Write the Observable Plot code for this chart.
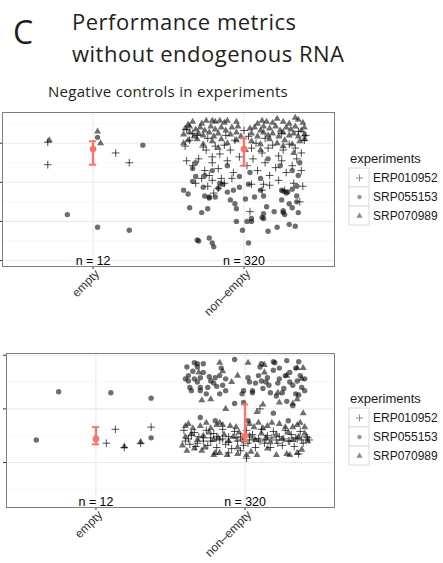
<!DOCTYPE html>
<html>
<head>
<meta charset="utf-8">
<script src="https://cdn.jsdelivr.net/npm/d3@7"></script>
<script src="https://cdn.jsdelivr.net/npm/@observablehq/plot@0.6"></script>
<style>
  body { margin: 0; background: #fff; }
  #root { position: relative; width: 443px; height: 563px; overflow: hidden; background: #fff; }
  .layer { position: absolute; }
</style>
</head>
<body>
<div id="root">
  <svg class="layer" style="left:0;top:0" width="443" height="563">
    <g font-family="'Open Sans','Noto Sans',sans-serif" fill="#231f20">
      <text x="13" y="44" font-size="32">C</text>
      <text x="72" y="29.5" font-size="22" letter-spacing="0.5">Performance metrics</text>
      <text x="72" y="61.5" font-size="22" letter-spacing="0.5">without endogenous RNA</text>
      <text x="168" y="97" font-size="15" letter-spacing="0.3" text-anchor="middle">Negative controls in experiments</text>
    </g>
    <g font-family="'Liberation Sans',Arial,sans-serif" fill="#1a1a1a" font-size="13">
      <text x="350" y="162.7">experiments</text>
      <text x="350" y="402.7">experiments</text>
    </g>
  </svg>
</div>
<script>
// ---------- data ----------
const categories = ["empty", "non–empty"];
const counts = [12, 320];
const experiments = ["ERP010952", "SRP055153", "SRP070989"];

// panel 1 (upper) y ticks
const panel1Ticks = [0, 40, 80, 120];
const panel1Minor = [20, 60, 100, 140];
// panel 2 (lower) y ticks
const panel2Ticks = [0, 50, 100];
const panel2Minor = [-25, 25, 75];

// points: [jitter (fraction of band), value]
const p1_empty_ERP010952 = [[-0.30,121],[-0.30,98],[0.15,110],[0.24,100]];
const p1_empty_SRP055153 = [[0.03,126],[0.33,118],[-0.17,47],[0.03,34],[0.24,31]];
const p1_empty_SRP070989 = [[-0.29,123],[0.03,132],[0.05,120]];

const p1_nonempty_ERP010952 = [
[-0.39,117],[-0.36,123],[-0.31,128],[-0.27,116],[-0.25,113],[-0.21,106],[-0.19,117],[-0.16,109],[-0.13,118],[-0.09,113],[-0.06,123],[-0.03,106],[0.05,115],[0.08,120],[0.12,110],[0.16,115],[0.19,118],[0.23,107],[0.26,113],[0.30,119],[0.34,115],[0.38,110],[0.40,123],
[-0.38,102],[-0.34,97],[-0.30,104],[-0.26,92],[-0.23,87],[-0.21,100],[-0.17,94],[-0.15,84],[-0.11,102],[-0.07,90],[0.02,97],[0.06,104],[0.09,92],[0.14,100],[0.17,87],[0.21,95],[0.25,102],[0.28,90],[0.32,97],[0.35,104],[0.38,92],
[-0.32,79],[-0.28,84],[-0.24,76],[-0.21,82],[-0.17,74],[-0.13,79],[-0.08,84],[0.05,78],[0.12,72],[0.17,77],[0.23,82],[0.27,72],[0.33,79],[0.39,76],
[-0.20,69],[0.13,78],[0.04,50],[0.37,60],
[-0.38,134],[-0.34,130],[-0.24,125],[-0.12,128],[0,133],[0.03,127],[0.14,125],[0.25,130],[0.36,132],[0.41,128]];
const p1_nonempty_SRP055153 = [
[-0.34,94],[-0.32,100],[-0.32,86],[-0.26,87],[0.16,104],[0.32,92],[0.36,87],[-0.34,81],[-0.16,79],[-0.11,97],[0.04,90],[0.24,97],[-0.03,86],[-0.21,92],[0.11,84],[0.37,100],
[-0.40,72],[-0.37,68],[-0.27,75],[-0.26,66],[-0.23,65],[-0.19,65],[-0.17,74],[-0.14,78],[-0.11,70],[-0.07,72],[-0.03,75],[0.03,78],[0.11,72],[0.13,66],[0.07,65],[0.01,63],[-0.09,62],[0.26,71],[0.29,70],[0.32,73],[0.35,76],[0.35,66],[-0.23,64],[0.28,69],
[-0.06,58],[-0.05,53],[-0.36,54],[-0.28,49],[-0.24,53],[0.15,55],[0.20,50],[0.25,62],[0.26,49],[0.30,58],[0.35,60],[0.36,49],[0.32,54],[0.27,47],[0.13,48],
[-0.05,40],[0.02,40],[0.05,40],[0.13,43],[-0.01,31],[0.16,30],[0.22,34],[0.30,37],[0.34,35],[0.05,43],
[-0.30,20],[-0.23,23],[-0.21,18],[-0.20,14],[0.03,18],[-0.31,21],[0.26,51],[0.12,44],[0.25,72]];
const p1_nonempty_SRP070989 = [
[-0.37,139],[-0.34,142],[-0.28,140],[-0.25,143],[-0.21,143],[-0.19,142],[-0.16,143],[-0.13,141],[-0.11,143],[-0.05,142],[0.09,140],[0.12,143],[0.15,142],[0.19,141],[0.22,145],[0.26,142],[0.30,140],[0.34,146],[0.36,144],[0.39,141],
[-0.39,135],[-0.36,137],[-0.32,134],[-0.29,136],[-0.26,133],[-0.22,137],[-0.19,134],[-0.15,136],[-0.12,133],[-0.08,136],[-0.04,137],[0.04,135],[0.07,136],[0.11,133],[0.13,137],[0.17,135],[0.21,137],[0.24,133],[0.28,136],[0.31,134],[0.34,137],[0.38,133],[0.40,136],
[-0.40,129],[-0.36,131],[-0.33,127],[-0.30,130],[-0.27,128],[-0.23,131],[-0.20,127],[-0.17,130],[-0.09,129],[-0.05,131],[-0.02,127],[0.05,130],[0.09,127],[0.13,131],[0.16,128],[0.19,130],[0.23,127],[0.26,131],[0.30,128],[0.33,130],[0.36,127],[0.40,129],
[-0.40,120],[-0.37,123],[-0.31,124],[-0.27,119],[-0.21,122],[-0.15,124],[-0.11,120],[-0.05,123],[0.05,122],[0.11,119],[0.17,124],[0.22,120],[0.27,123],[0.32,119],[0.37,122],[0.40,124],
[-0.17,115],[0.01,113],[0.26,117],[0.33,110],[0.11,113]];

const p2_empty_ERP010952 = [[0.07,18],[0.13,31],[0.19,14],[0.37,33],[0.30,18]];
const p2_empty_SRP055153 = [[-0.40,21],[-0.25,66],[0.10,65],[0.37,60],[0.37,23]];
const p2_empty_SRP070989 = [[0.19,15],[0.30,19]];

const p2_nonempty_ERP010952 = [
[-0.41,30],[-0.38,22],[-0.37,17],[-0.34,28],[-0.33,15],[-0.31,24],[-0.28,20],[-0.26,30],[-0.25,16],[-0.23,23],[-0.21,27],[-0.19,14],[-0.17,21],[-0.15,31],[-0.13,17],[-0.11,24],[-0.09,13],[-0.07,29],[-0.05,20],[-0.03,24],[-0.01,16],[0.01,30],[0.03,21],[0.05,26],[0.07,14],[0.09,22],[0.11,31],[0.13,18],[0.15,25],[0.17,14],[0.19,29],[0.21,21],[0.23,24],[0.25,16],[0.27,30],[0.29,20],[0.31,26],[0.33,15],[0.35,22],[0.37,29],[0.39,18],[0.41,24],[0.43,21],
[-0.40,20],[-0.36,25],[-0.32,18],[-0.28,23],[-0.23,20],[-0.19,24],[-0.15,22],[-0.11,19],[-0.06,23],[-0.02,21],[0.02,18],[0.06,22],[0.10,20],[0.14,21],[0.18,23],[0.22,18],[0.26,22],[0.30,20],[0.34,23],[0.38,21],[0.42,23],
[0.01,4],[-0.11,9],[-0.03,11],[0.36,8],[0.10,50]];
const p2_nonempty_SRP055153 = [
[-0.39,89],[-0.38,81],[-0.35,85],[-0.32,92],[-0.32,89],[-0.34,78],[-0.32,75],[-0.30,79],[-0.30,70],[-0.37,70],[-0.25,70],[-0.26,64],[-0.21,74],[-0.20,79],[-0.17,81],[-0.16,88],[-0.15,72],[-0.17,64],[-0.07,96],[-0.01,67],[-0.02,64],[0.02,79],[0.03,75],[0.05,67],[0.07,74],[0.10,89],[0.11,92],[0.12,69],[0.14,75],[0.16,72],[0.19,86],[0.20,93],[0.22,74],[0.23,78],[0.26,69],[0.28,95],[0.30,75],[0.32,72],[0.35,76],[0.34,64],[0.37,81],[0.38,70],[-0.07,55],[-0.30,42],[0.19,94],[0.05,65],[0.19,46],[0.29,39],[0.21,62],[0.32,53],
[-0.38,76],[-0.28,84],[-0.23,76],[-0.19,71],[-0.13,78],[0.09,81],[0.15,79],[0.17,65],[0.23,88],[0.27,81],[0.30,84],[0.34,88],[0.36,63],[0.40,78],[-0.40,78],[-0.36,67],[-0.24,80],[-0.34,93],[-0.01,56],[0.11,76],[0.25,65],[0.36,94],[-0.30,67],[0.28,57],[0.40,67],[-0.28,92],[-0.13,67],[-0.20,39],[0.02,39]];
const p2_nonempty_SRP070989 = [
[-0.17,93],[-0.15,85],[-0.09,75],[-0.29,58],[0.02,93],[0.13,91],[0.13,84],[0.28,81],[0.35,88],[0.39,88],[0.38,78],[0.23,56],[0.32,55],[0.35,59],[-0.13,50],[0.08,47],[0.22,65],[0.39,46],[-0.23,59],[0.12,54],[-0.31,84],[-0.05,81],
[-0.40,34],[-0.38,36],[-0.35,32],[-0.30,34],[-0.26,37],[-0.23,32],[-0.19,35],[-0.17,37],[-0.15,35],[-0.10,34],[-0.06,33],[0.03,36],[0.06,33],[0.09,37],[0.12,32],[0.15,34],[0.18,37],[0.23,36],[0.27,33],[0.32,33],[0.35,35],[0.37,37],[0.40,33],
[-0.40,24],[-0.36,27],[-0.32,21],[-0.28,25],[-0.24,28],[-0.21,21],[-0.18,23],[-0.14,26],[-0.11,20],[-0.08,24],[-0.04,28],[-0.01,21],[0.03,25],[0.07,21],[0.11,27],[0.14,23],[0.17,19],[0.21,26],[0.25,22],[0.29,28],[0.32,21],[0.36,24],[0.40,27],[0.42,20],
[-0.39,11],[-0.34,13],[-0.29,11],[-0.27,14],[-0.21,7],[-0.20,9],[-0.17,9],[-0.12,7],[-0.05,8],[-0.05,14],[0.01,7],[0.04,10],[0.08,7],[0.15,13],[0.21,7],[0.28,8],[0.30,7],[0.35,9],[0.38,12],[-0.42,16]];

// summaries (median and interval) per category
const p1Median = [114, 114];
const p1Low = [98, 97];
const p1High = [122, 125];
const p2Median = [22, 25];
const p2Low = [17, 20.5];
const p2High = [33, 54];

// ---------- drawing ----------
const ggFont = "'Liberation Sans', Arial, Helvetica, sans-serif";
const red = "#F8766D";

const pointStyle = {
  ERP010952: {symbol: "plus", r: 2.6, stroke: "#000", strokeOpacity: 0.68, strokeWidth: 1, fill: "none"},
  SRP055153: {symbol: "circle", r: 2.7, fill: "#000", fillOpacity: 0.57, stroke: "none"},
  SRP070989: {symbol: "triangle", r: 2.6, fill: "#000", fillOpacity: 0.57, stroke: "none"}
};
const legendStyle = {
  ERP010952: {symbol: "plus", r: 2.4, stroke: "#8c8c8c", strokeWidth: 1, fill: "none"},
  SRP055153: {symbol: "circle", r: 2.2, fill: "#9a9a9a", stroke: "none"},
  SRP070989: {symbol: "triangle", r: 2.3, fill: "#8c8c8c", stroke: "none"}
};

function rows(arr, cat, exp) {
  return arr.map(([j, v]) => ({cat, exp, j, v}));
}

function panel(cfg) {
  const sets = {
    ERP010952: rows(cfg.empty.ERP010952, 1, "ERP010952").concat(rows(cfg.nonempty.ERP010952, 2, "ERP010952")),
    SRP055153: rows(cfg.empty.SRP055153, 1, "SRP055153").concat(rows(cfg.nonempty.SRP055153, 2, "SRP055153")),
    SRP070989: rows(cfg.empty.SRP070989, 1, "SRP070989").concat(rows(cfg.nonempty.SRP070989, 2, "SRP070989"))
  };
  const summary = categories.map((c, i) => ({x: i + 1, c, m: cfg.median[i], lo: cfg.low[i], hi: cfg.high[i], n: counts[i]}));
  const dotMarks = ["SRP055153", "SRP070989", "ERP010952"].map(e =>
    Plot.dot(sets[e], {x: d => d.cat + d.j, y: "v", ...pointStyle[e]}));
  return Plot.plot({
    width: 336, height: cfg.height,
    marginLeft: cfg.marginLeft, marginRight: 2, marginTop: cfg.marginTop, marginBottom: cfg.marginBottom,
    style: {background: "transparent", overflow: "visible", fontFamily: ggFont, fontSize: "12px", color: "#333"},
    x: {domain: [0.4, 2.6], ticks: [1, 2], tickFormat: () => "", tickSize: 3, label: null},
    y: {domain: cfg.yDomain, ticks: cfg.ticks, tickFormat: () => "", tickSize: 3, label: null},
    marks: [
      Plot.ruleY(cfg.minor, {stroke: "#f3f3f3", strokeWidth: 0.7}),
      Plot.ruleY(cfg.ticks, {stroke: "#ebebeb", strokeWidth: 1.1}),
      Plot.ruleX([1, 2], {stroke: "#ebebeb", strokeWidth: 1.1}),
      ...dotMarks,
      Plot.ruleX(summary, {x: "x", y1: "lo", y2: "hi", stroke: red, strokeWidth: 2.4}),
      Plot.ruleY(summary, {y: "lo", x1: d => d.x - 0.024, x2: d => d.x + 0.024, stroke: red, strokeWidth: 2}),
      Plot.ruleY(summary, {y: "hi", x1: d => d.x - 0.024, x2: d => d.x + 0.024, stroke: red, strokeWidth: 2}),
      Plot.dot(summary, {x: "x", y: "m", r: 3.3, fill: red, stroke: "none"}),
      Plot.text(summary, {x: "x", frameAnchor: "bottom", text: d => `n = ${d.n}`, lineAnchor: "bottom", dy: -2, fontSize: 12.4, fill: "#000"}),
      Plot.text(summary, {x: "x", frameAnchor: "bottom", text: "c", rotate: -45, textAnchor: "end", lineAnchor: "top", dx: 1, dy: 2, fontSize: 12, fill: "#333"}),
      Plot.frame({stroke: "#7f7f7f", strokeWidth: 1})
    ]
  });
}

function legendPlot() {
  const keys = experiments.map(e => ({e}));
  return Plot.plot({
    width: 103, height: 60, margin: 0,
    style: {background: "transparent", overflow: "visible", fontFamily: ggFont, fontSize: "12px"},
    x: {type: "band", domain: ["key"], range: [9, 29], padding: 0, axis: null},
    y: {type: "band", domain: experiments, range: [0.5, 59.5], padding: 0, axis: null},
    marks: [
      Plot.cell(keys, {x: () => "key", y: "e", fill: "white", stroke: "#d9d9d9", strokeWidth: 1}),
      ...experiments.map(e => Plot.dot(keys.filter(k => k.e === e), {x: () => "key", y: "e", ...legendStyle[e]})),
      Plot.text(keys, {x: () => "key", y: "e", text: "e", textAnchor: "start", dx: 13.5, fill: "#1a1a1a"})
    ]
  });
}

function place(node, left, top, width) {
  const div = document.createElement("div");
  div.className = "layer";
  div.style.left = left + "px";
  div.style.top = top + "px";
  div.style.width = width + "px";
  div.appendChild(node);
  document.getElementById("root").appendChild(div);
}

place(panel({
  empty: {ERP010952: p1_empty_ERP010952, SRP055153: p1_empty_SRP055153, SRP070989: p1_empty_SRP070989},
  nonempty: {ERP010952: p1_nonempty_ERP010952, SRP055153: p1_nonempty_SRP055153, SRP070989: p1_nonempty_SRP070989},
  median: p1Median, low: p1Low, high: p1High,
  ticks: panel1Ticks, minor: panel1Minor, yDomain: [-6.1, 151.4],
  height: 220, marginLeft: 2, marginTop: 12, marginBottom: 54
}), 0, 100, 336);

place(panel({
  empty: {ERP010952: p2_empty_ERP010952, SRP055153: p2_empty_SRP055153, SRP070989: p2_empty_SRP070989},
  nonempty: {ERP010952: p2_nonempty_ERP010952, SRP055153: p2_nonempty_SRP055153, SRP070989: p2_nonempty_SRP070989},
  median: p2Median, low: p2Low, high: p2High,
  ticks: panel2Ticks, minor: panel2Minor, yDomain: [-41.9, 101.6],
  height: 220, marginLeft: 6, marginTop: 13, marginBottom: 53
}), 0, 340, 336);

place(legendPlot(), 340, 166, 103);
place(legendPlot(), 340, 406, 103);
</script>
</body>
</html>
